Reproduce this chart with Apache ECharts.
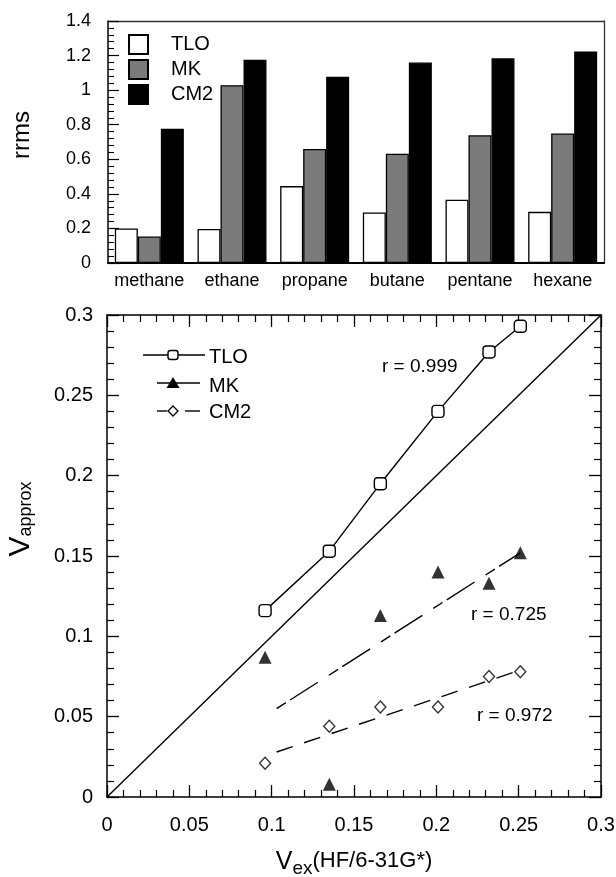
<!DOCTYPE html>
<html>
<head>
<meta charset="utf-8">
<script src="https://cdn.jsdelivr.net/npm/echarts@6/dist/echarts.min.js"></script>
<style>
  html, body { margin: 0; padding: 0; background: #fff; }
  #stage { position: relative; width: 616px; height: 877px; }
  .layer { position: absolute; left: 0; top: 0; width: 616px; height: 877px; }
</style>
</head>
<body>
<div id="stage">
  <div id="barPanel" class="layer"></div>
  <div id="scatterPanel" class="layer"></div>
</div>
<script>
// ---- rrms per alkane (upper bar panel) ----
const categories = ['methane', 'ethane', 'propane', 'butane', 'pentane', 'hexane'];
const rrmsTLO = [0.200, 0.197, 0.445, 0.292, 0.366, 0.296];
const rrmsMK  = [0.153, 1.029, 0.660, 0.632, 0.739, 0.749];
const rrmsCM2 = [0.776, 1.176, 1.077, 1.160, 1.184, 1.224];
const rrmsTicks = [0, 0.2, 0.4, 0.6, 0.8, 1, 1.2, 1.4];

// ---- V_approx against V_ex (lower scatter panel) ----
const vEx  = [0.096, 0.135, 0.166, 0.201, 0.232, 0.251];
const vTLO = [0.116, 0.153, 0.195, 0.240, 0.277, 0.293];
const vMK  = [0.087, 0.008, 0.113, 0.140, 0.133, 0.152];
const vCM2 = [0.021, 0.044, 0.056, 0.056, 0.075, 0.078];
const vTicks = [0, 0.05, 0.1, 0.15, 0.2, 0.25, 0.3];

// regression lines (end points) and the y = x reference
const fitMK  = [[0.103, 0.055], [0.251, 0.152]];
const fitCM2 = [[0.103, 0.028], [0.251, 0.079]];
const identityLine = [[0, 0], [0.3, 0.3]];
const rLabels = ['r = 0.999', 'r = 0.725', 'r = 0.972'];

const FONT = '"Liberation Sans", Arial, Helvetica, sans-serif';
const INK = '#000';

const pairs = (xs, ys) => xs.map((x, i) => [x, ys[i]]);
const tickText = ticks => v => {
  const hit = ticks.find(t => Math.abs(t - v) < 1e-9);
  return String(hit === undefined ? v : hit);
};

// frame pieces of the scatter panel: ticks point into the plot on all four sides
const frameLine = () => ({ show: true, onZero: false, lineStyle: { color: INK, width: 1.5 } });
const insideTicks = () => ({ show: true, inside: true, length: 12, lineStyle: { color: INK, width: 1.3 } });
const insideMinor = () => ({ show: true, splitNumber: 5, length: 7, lineStyle: { color: INK, width: 1.2 } });

// ---------- upper panel ----------
const barChart = echarts.init(document.getElementById('barPanel'));
barChart.setOption({
  animation: false,
  backgroundColor: '#fff',
  grid: { left: 108, top: 21, width: 496, height: 242, outerBoundsMode: 'none' },
  legend: {
    data: ['TLO', 'MK', 'CM2'],
    orient: 'vertical',
    left: 128,
    top: 34,
    padding: 0,
    itemWidth: 19,
    itemHeight: 19,
    itemGap: 4,
    icon: 'rect',
    selectedMode: false,
    textStyle: { fontFamily: FONT, fontSize: 20, color: INK, padding: [0, 0, 0, 18] }
  },
  xAxis: [
    {
      type: 'category', data: categories, position: 'bottom',
      axisLine: { show: true, onZero: false, lineStyle: { color: INK, width: 2 } },
      axisTick: { show: false },
      axisLabel: { fontFamily: FONT, fontSize: 18, color: INK, margin: 9, interval: 0 },
      splitLine: { show: false }
    },
    {
      type: 'value', position: 'top', min: 0, max: 1,
      axisLine: { show: true, onZero: false, lineStyle: { color: '#333', width: 1.3 } },
      axisTick: { show: false }, axisLabel: { show: false }, splitLine: { show: false }
    }
  ],
  yAxis: [
    {
      type: 'value', position: 'left', min: 0, max: 1.4, interval: 0.2,
      axisLine: { show: true, onZero: false, lineStyle: { color: INK, width: 1.5 } },
      axisTick: { show: true, inside: true, length: 11, lineStyle: { color: INK, width: 1.2 } },
      minorTick: { show: true, splitNumber: 5, length: 6, lineStyle: { color: INK, width: 1.1 } },
      axisLabel: { fontFamily: FONT, fontSize: 18, color: INK, margin: 17, formatter: tickText(rrmsTicks) },
      splitLine: { show: false }
    },
    {
      type: 'value', position: 'right', min: 0, max: 1,
      axisLine: { show: true, onZero: false, lineStyle: { color: '#333', width: 1.3 } },
      axisTick: { show: false }, axisLabel: { show: false }, splitLine: { show: false }
    }
  ],
  series: [
    {
      type: 'bar', name: 'TLO', data: rrmsTLO, barWidth: 23, barGap: '0%',
      itemStyle: { color: '#ffffff', borderColor: INK, borderWidth: 1.3 }
    },
    {
      type: 'bar', name: 'MK', data: rrmsMK, barWidth: 23, barGap: '0%',
      itemStyle: { color: '#7b7b7b', borderColor: INK, borderWidth: 1.3 }
    },
    {
      type: 'bar', name: 'CM2', data: rrmsCM2, barWidth: 23, barGap: '0%',
      itemStyle: { color: '#000000', borderColor: INK, borderWidth: 1.3 }
    }
  ],
  graphic: [
    {
      type: 'text', x: 22, y: 135, rotation: Math.PI / 2,
      style: { text: 'rrms', fontFamily: FONT, fontSize: 24, fill: INK, align: 'center', verticalAlign: 'middle' }
    }
  ]
});

// ---------- lower panel ----------
const scatterChart = echarts.init(document.getElementById('scatterPanel'));
scatterChart.setOption({
  animation: false,
  backgroundColor: 'transparent',
  grid: { left: 107, top: 315, width: 494, height: 482, outerBoundsMode: 'none' },
  xAxis: [
    {
      type: 'value', position: 'bottom', min: 0, max: 0.3, interval: 0.05,
      axisLine: frameLine(), axisTick: insideTicks(), minorTick: insideMinor(),
      axisLabel: { fontFamily: FONT, fontSize: 20, color: INK, margin: 18, formatter: tickText(vTicks) },
      splitLine: { show: false },
      name: '{v|V}{s|ex}{t|(HF/6-31G*)}',
      nameLocation: 'middle',
      nameGap: 53,
      nameTextStyle: {
        color: INK,
        rich: {
          v: { fontFamily: FONT, fontSize: 25, lineHeight: 25, verticalAlign: 'top', color: INK },
          s: { fontFamily: FONT, fontSize: 19, lineHeight: 37, verticalAlign: 'middle', color: INK },
          t: { fontFamily: FONT, fontSize: 22, lineHeight: 25, verticalAlign: 'top', color: INK }
        }
      }
    },
    {
      type: 'value', position: 'top', min: 0, max: 0.3, interval: 0.05,
      axisLine: frameLine(), axisTick: insideTicks(), minorTick: insideMinor(),
      axisLabel: { show: false }, splitLine: { show: false }
    }
  ],
  yAxis: [
    {
      type: 'value', position: 'left', min: 0, max: 0.3, interval: 0.05,
      axisLine: frameLine(), axisTick: insideTicks(), minorTick: insideMinor(),
      axisLabel: { fontFamily: FONT, fontSize: 20, color: INK, margin: 14, formatter: tickText(vTicks) },
      splitLine: { show: false }
    },
    {
      type: 'value', position: 'right', min: 0, max: 0.3, interval: 0.05,
      axisLine: frameLine(), axisTick: insideTicks(), minorTick: insideMinor(),
      axisLabel: { show: false }, splitLine: { show: false }
    }
  ],
  series: [
    {
      type: 'line', name: 'y = x', data: identityLine, symbol: 'none', silent: true, z: 2,
      lineStyle: { color: INK, width: 1.4 }
    },
    {
      type: 'line', name: 'MK regression', data: fitMK, symbol: 'none', silent: true, z: 2,
      lineStyle: { color: INK, width: 1.4, type: [11, 5, 33, 13] }
    },
    {
      type: 'line', name: 'CM2 regression', data: fitCM2, symbol: 'none', silent: true, z: 2,
      lineStyle: { color: INK, width: 1.4, type: [17, 12] }
    },
    {
      type: 'line', name: 'TLO', data: pairs(vEx, vTLO),
      symbol: 'roundRect', symbolSize: 12, showAllSymbol: true, z: 4,
      lineStyle: { color: INK, width: 1.4 },
      itemStyle: { color: '#fff', borderColor: INK, borderWidth: 1.4 }
    },
    {
      type: 'scatter', name: 'MK', data: pairs(vEx, vMK),
      symbol: 'triangle', symbolSize: 13, z: 4,
      itemStyle: { color: INK }
    },
    {
      type: 'scatter', name: 'CM2', data: pairs(vEx, vCM2),
      symbol: 'diamond', symbolSize: [11, 12], z: 4,
      itemStyle: { color: '#fff', borderColor: INK, borderWidth: 1.4 }
    }
  ],
  graphic: [
    {
      type: 'text', x: 26, y: 519, rotation: Math.PI / 2,
      style: {
        text: '{v|V}{s|approx}', fill: INK, align: 'center', verticalAlign: 'middle',
        rich: {
          v: { fontFamily: FONT, fontSize: 30, lineHeight: 30, verticalAlign: 'top', fill: INK },
          s: { fontFamily: FONT, fontSize: 18, lineHeight: 40, verticalAlign: 'middle', fill: INK }
        }
      }
    },
    // correlation coefficients
    { type: 'text', x: 382, y: 367, style: { text: rLabels[0], fontFamily: FONT, fontSize: 19, fill: INK, align: 'left', verticalAlign: 'middle' } },
    { type: 'text', x: 471, y: 615, style: { text: rLabels[1], fontFamily: FONT, fontSize: 19, fill: INK, align: 'left', verticalAlign: 'middle' } },
    { type: 'text', x: 477, y: 716, style: { text: rLabels[2], fontFamily: FONT, fontSize: 19, fill: INK, align: 'left', verticalAlign: 'middle' } },
    // key of the lower panel
    { type: 'line', shape: { x1: 143, y1: 355, x2: 205, y2: 355 }, style: { stroke: INK, lineWidth: 1.4 } },
    { type: 'rect', shape: { x: 168, y: 350.5, width: 10, height: 9, r: 2.5 }, style: { fill: '#fff', stroke: INK, lineWidth: 1.4 } },
    { type: 'text', x: 209, y: 357, style: { text: 'TLO', fontFamily: FONT, fontSize: 20, fill: INK, align: 'left', verticalAlign: 'middle' } },

    { type: 'line', shape: { x1: 157, y1: 383, x2: 200, y2: 383 }, style: { stroke: INK, lineWidth: 1.4 } },
    { type: 'polygon', shape: { points: [[173, 377], [179.5, 388], [166.5, 388]] }, style: { fill: INK } },
    { type: 'text', x: 209, y: 386, style: { text: 'MK', fontFamily: FONT, fontSize: 20, fill: INK, align: 'left', verticalAlign: 'middle' } },

    { type: 'line', shape: { x1: 157, y1: 411, x2: 167, y2: 411 }, style: { stroke: INK, lineWidth: 1.4 } },
    { type: 'line', shape: { x1: 185, y1: 411, x2: 200, y2: 411 }, style: { stroke: INK, lineWidth: 1.4 } },
    { type: 'polygon', shape: { points: [[173, 406], [178, 411], [173, 416], [168, 411]] }, style: { fill: '#fff', stroke: INK, lineWidth: 1.3 } },
    { type: 'text', x: 209, y: 412, style: { text: 'CM2', fontFamily: FONT, fontSize: 20, fill: INK, align: 'left', verticalAlign: 'middle' } }
  ]
});
</script>
</body>
</html>
